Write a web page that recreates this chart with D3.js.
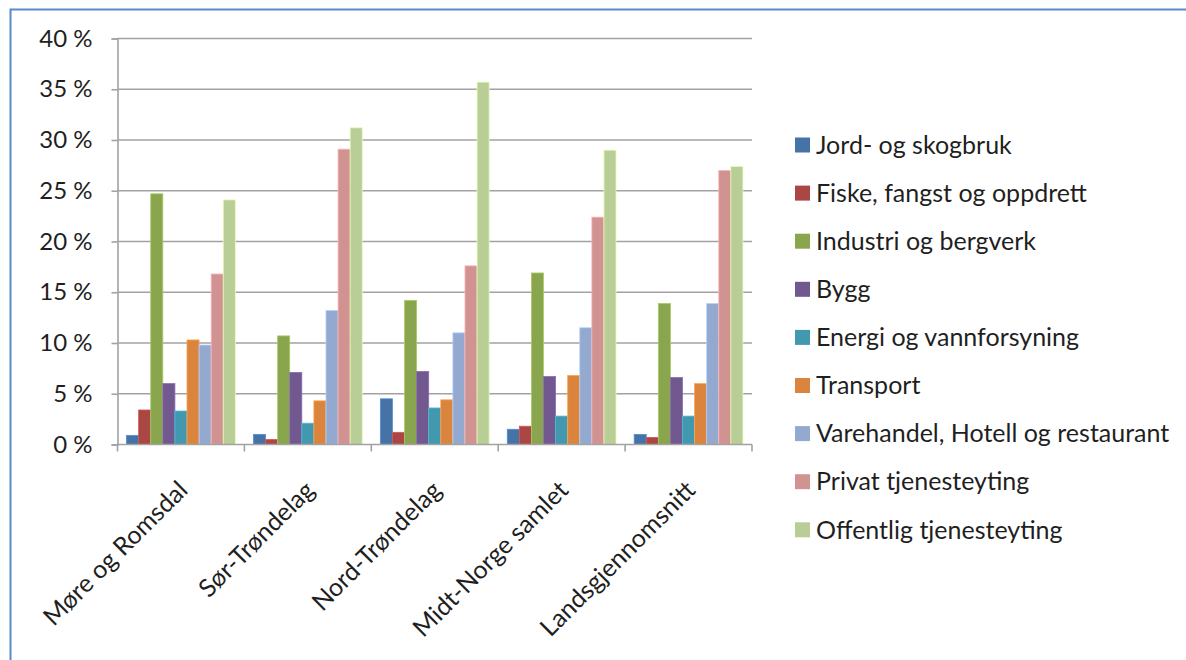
<!DOCTYPE html>
<html>
<head>
<meta charset="utf-8">
<script src="https://cdn.jsdelivr.net/npm/d3@7"></script>
<style>
  body { margin: 0; background: #fff; }
  text { font-family: Lato, "Open Sans", sans-serif; fill: #1f1f1f; }
</style>
</head>
<body>
<svg id="chart" width="1186" height="660"></svg>
<script>
// Regions along the x axis
const regions = ["Møre og Romsdal", "Sør-Trøndelag", "Nord-Trøndelag", "Midt-Norge samlet", "Landsgjennomsnitt"];

// Sectors (one series each), legend order
const sectors = [
  "Jord- og skogbruk",
  "Fiske, fangst og oppdrett",
  "Industri og bergverk",
  "Bygg",
  "Energi og vannforsyning",
  "Transport",
  "Varehandel, Hotell og restaurant",
  "Privat tjenesteyting",
  "Offentlig tjenesteyting"
];

// Share of employment (%) per region, one array per sector
const jordOgSkogbruk   = [0.9, 1.0, 4.5, 1.5, 1.0];
const fiske            = [3.4, 0.5, 1.2, 1.8, 0.7];
const industri         = [24.7, 10.7, 14.2, 16.9, 13.9];
const bygg             = [6.0, 7.1, 7.2, 6.7, 6.6];
const energi           = [3.3, 2.1, 3.6, 2.8, 2.8];
const transport        = [10.3, 4.3, 4.4, 6.8, 6.0];
const varehandel       = [9.8, 13.2, 11.0, 11.5, 13.9];
const privatTjeneste   = [16.8, 29.1, 17.6, 22.4, 27.0];
const offentligTjeneste= [24.1, 31.2, 35.7, 29.0, 27.4];

const seriesValues = [jordOgSkogbruk, fiske, industri, bygg, energi, transport, varehandel, privatTjeneste, offentligTjeneste];

const colors = ["#4572A7", "#AA4643", "#89A54E", "#71588F", "#4198AF", "#DB843D", "#93A9CF", "#D19392", "#B9CD96"];

// Y axis ticks (%)
const yTicks = [0, 5, 10, 15, 20, 25, 30, 35, 40];
const yTickLabels = ["0 %", "5 %", "10 %", "15 %", "20 %", "25 %", "30 %", "35 %", "40 %"];

const svg = d3.select("#chart");

// Frame around the chart area
svg.append("rect")
  .attr("x", 10.5).attr("y", 9.5)
  .attr("width", 1200).attr("height", 700)
  .attr("fill", "none")
  .attr("stroke", "#5B8AC8")
  .attr("stroke-width", 2);

const plot = { left: 117.5, right: 752, top: 38.5, bottom: 444.5 };

const x0 = d3.scaleBand().domain(regions).range([plot.left, plot.right]).paddingInner(0).paddingOuter(0);
const x1 = d3.scaleBand().domain(sectors).range([0, x0.bandwidth()]).paddingInner(0).paddingOuter(0.75);
const y = d3.scaleLinear().domain([0, 40]).range([plot.bottom, plot.top]);

// Gridlines
svg.append("g")
  .selectAll("line")
  .data(yTicks.filter(d => d > 0))
  .join("line")
  .attr("x1", plot.left).attr("x2", plot.right)
  .attr("y1", d => y(d)).attr("y2", d => y(d))
  .attr("stroke", "#a2a2a2")
  .attr("stroke-width", 1.6);

// Bars
const groups = svg.append("g")
  .selectAll("g")
  .data(regions)
  .join("g")
  .attr("transform", d => `translate(${x0(d)},0)`);

groups.selectAll("rect")
  .data((r, ri) => sectors.map((s, si) => ({ sector: s, si, value: seriesValues[si][ri] })))
  .join("rect")
  .attr("x", d => x1(d.sector))
  .attr("y", d => y(d.value))
  .attr("width", x1.bandwidth())
  .attr("height", d => y(0) - y(d.value))
  .attr("fill", d => colors[d.si])
  .attr("stroke", d => d3.color(colors[d.si]).brighter(0.6))
  .attr("stroke-width", 0.8);

// Y axis
const yAxis = d3.axisLeft(y)
  .tickValues(yTicks)
  .tickFormat((d, i) => yTickLabels[i])
  .tickSize(6)
  .tickPadding(19);
const yG = svg.append("g").attr("transform", `translate(${plot.left},0)`).call(yAxis);
yG.select(".domain").attr("stroke", "#a2a2a2").attr("stroke-width", 1.6);
yG.selectAll(".tick line").attr("stroke", "#a2a2a2").attr("stroke-width", 1.6);
yG.selectAll(".tick text").style("font-size", "24px").style("font-family", "Lato, sans-serif").attr("fill", "#1f1f1f");

// X axis: baseline and boundary ticks
svg.append("line")
  .attr("x1", plot.left).attr("x2", plot.right)
  .attr("y1", y(0)).attr("y2", y(0))
  .attr("stroke", "#a2a2a2").attr("stroke-width", 1.6);

const boundaries = regions.map(r => x0(r)).concat([x0(regions[regions.length - 1]) + x0.bandwidth()]);
svg.append("g").selectAll("line")
  .data(boundaries)
  .join("line")
  .attr("x1", d => d).attr("x2", d => d)
  .attr("y1", y(0)).attr("y2", y(0) + 7)
  .attr("stroke", "#a2a2a2").attr("stroke-width", 1.6);

// Rotated category labels
svg.append("g").selectAll("text")
  .data(regions)
  .join("text")
  .attr("transform", d => `translate(${x0(d) + x0.bandwidth() / 2 + 2},${y(0) + 41}) rotate(-45)`)
  .attr("text-anchor", "end")
  .attr("dy", "0.35em")
  .style("font-size", "25px")
  .text(d => d);

// Legend
const legend = svg.append("g").attr("transform", "translate(795,145)");
const rows = legend.selectAll("g")
  .data(sectors)
  .join("g")
  .attr("transform", (d, i) => `translate(0,${i * 48.1})`);
rows.append("rect")
  .attr("x", 0).attr("y", -7.5)
  .attr("width", 15).attr("height", 15)
  .attr("fill", (d, i) => colors[i]);
rows.append("text")
  .attr("x", 21).attr("y", 0)
  .attr("dy", "0.35em")
  .style("font-size", "25px")
  .text(d => d);
</script>
</body>
</html>
